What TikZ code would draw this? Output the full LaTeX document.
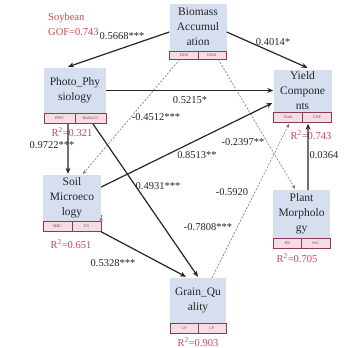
\documentclass[tikz,border=0pt]{standalone}
\usepackage{fontspec}
\setmainfont{Liberation Serif}
\usetikzlibrary{arrows.meta,calc}
\definecolor{boxblue}{HTML}{D6DFEF}
\definecolor{indpink}{HTML}{F4DDE4}
\definecolor{indline}{HTML}{8E3B4E}
\definecolor{lblred}{HTML}{C8474E}
\tikzset{
 latent/.style={fill=boxblue, draw=none, align=center, font=\fontsize{11.5}{15}\selectfont, inner sep=0pt, text=black!85},
 indcell/.style={fill=indpink, draw=indline, line width=0.6pt, font=\fontsize{4}{4.5}\selectfont, text=indline, inner sep=0pt, minimum height=10pt},
 solidarr/.style={draw=black!85, line width=1.2pt, -{Stealth[length=6pt,width=5pt]}},
 dotarr/.style={draw=black!55, line width=0.6pt, dash pattern=on 2pt off 1.5pt, -{Stealth[length=4pt,width=3.5pt]}},
 coef/.style={font=\fontsize{10.5}{12}\selectfont, text=black!85, inner sep=0pt},
 rlabel/.style={font=\fontsize{10.5}{12}\selectfont, text=lblred, inner sep=0pt},
}
\begin{document}
\begin{tikzpicture}[x=1pt,y=-1pt]
\useasboundingbox (0,0) rectangle (345,348);
\fill[white] (0,0) rectangle (345,348);

% latent boxes
\node[latent, minimum width=57pt, minimum height=47pt] (bio) at (198,27) {Biomass\\Accumul\\ation};
\node[latent, minimum width=62pt, minimum height=45pt] (photo) at (75,90.5) {Photo\_Phy\\siology};
\node[latent, minimum width=58pt, minimum height=46pt] (soil) at (72,198) {Soil\\Microeco\\logy};
\node[latent, minimum width=58pt, minimum height=42pt] (yield) at (302.5,91) {Yield\\Compone\\nts};
\node[latent, minimum width=57pt, minimum height=48pt] (plant) at (301.5,214) {Plant\\Morpholo\\gy};
\node[latent, minimum width=56pt, minimum height=45pt] (grain) at (198,300.5) {Grain\_Qu\\ality};

% indicator cells
\node[indcell, minimum width=28.5pt, minimum height=8pt, anchor=north west] (bioA) at (bio.south west) {TDW};
\node[indcell, minimum width=28.5pt, minimum height=8pt, anchor=north east] (bioB) at (bio.south east) {DMA};
\node[indcell, minimum width=31pt, anchor=north west] (photoA) at (photo.south west) {PEPC};
\node[indcell, minimum width=31pt, anchor=north east] (photoB) at (photo.south east) {RuBisCO};
\node[indcell, minimum width=29pt, anchor=north west] (soilA) at (soil.south west) {MBC};
\node[indcell, minimum width=29pt, anchor=north east] (soilB) at (soil.south east) {TN};
\node[indcell, minimum width=29pt, anchor=north west] (yieldA) at (yield.south west) {Yield};
\node[indcell, minimum width=29pt, anchor=north east] (yieldB) at (yield.south east) {GNP};
\node[indcell, minimum width=28.5pt, anchor=north west] (plantA) at (plant.south west) {RN};
\node[indcell, minimum width=28.5pt, anchor=north east] (plantB) at (plant.south east) {SSC};
\node[indcell, minimum width=28pt, anchor=north west] (grainA) at (grain.south west) {CP};
\node[indcell, minimum width=28pt, anchor=north east] (grainB) at (grain.south east) {CP};

% R2 labels
\node[rlabel] (r1) at (72,132) {R\textsuperscript{2}=0.321};
\node[rlabel] (r2) at (311,135) {R\textsuperscript{2}=0.743};
\node[rlabel] (r3) at (71,244) {R\textsuperscript{2}=0.651};
\node[rlabel] (r4) at (297,258) {R\textsuperscript{2}=0.705};
\node[rlabel] (r5) at (198,342) {R\textsuperscript{2}=0.903};

% title
\node[rlabel, anchor=west] (t1) at (48,18) {Soybean};
\node[rlabel, anchor=west] (t2) at (48,32) {GOF=0.743};

% paths
\draw[solidarr] ($(bio.west)+(0,5)$) -- ($(photo.north)+(-7,-1)$);
\draw[solidarr] ($(bio.east)+(0,5)$) -- ($(yield.north)+(5,-2)$);
\draw[solidarr] (photo.east) -- (photo.east -| yield.west);
\draw[solidarr] ($(photoA.south)+(8.5,0)$) -- ($(soil.north)+(-4,-1)$);
\draw[dotarr] ($(bioA.south)+(-4,0)$) -- ($(soil.north)+(11,-1)$);
\draw[dotarr] ($(bioB.south)+(6,0)$) -- ($(plant.north)+(-6.5,-1)$);
\draw[solidarr] ($(soil.east)+(0,-11)$) -- ($(yield.west)+(-1,12)$);
\draw[solidarr] ($(photoB.south)+(2.5,0)$) -- ($(grain.north)+(0,-1)$);
\draw[solidarr] (soilB.south east) -- ($(grain.north)+(-12,-1)$);
\draw[dotarr] ($(soil.east)+(0,19)$) -- ($(soil.east)+(0,19)$ -| plant.west);
\draw[dotarr] ($(grain.north)+(14,0)$) -- ($(yieldA.south)+(1,1)$);
\draw[solidarr] ($(plant.north)+(6.5,0)$) -- ($(yieldB.south west)+(6,1)$);

% coefficients
\node[coef] (c1) at (122,36) {0.5668***};
\node[coef] (c2) at (273,42) {0.4014*};
\node[coef] (c3) at (190,100) {0.5215*};
\node[coef] (c4) at (52,145) {0.9722***};
\node[coef] (c5) at (156,117) {-0.4512***};
\node[coef] (c6) at (243,142) {-0.2397**};
\node[coef] (c7) at (197,155) {0.8513**};
\node[coef] (c8) at (158,186) {0.4931***};
\node[coef] (c9) at (113,263) {0.5328***};
\node[coef] (c10) at (208,227) {-0.7808***};
\node[coef] (c11) at (232,192) {-0.5920};
\node[coef] (c12) at (324,155) {0.0364};
\end{tikzpicture}
\end{document}
